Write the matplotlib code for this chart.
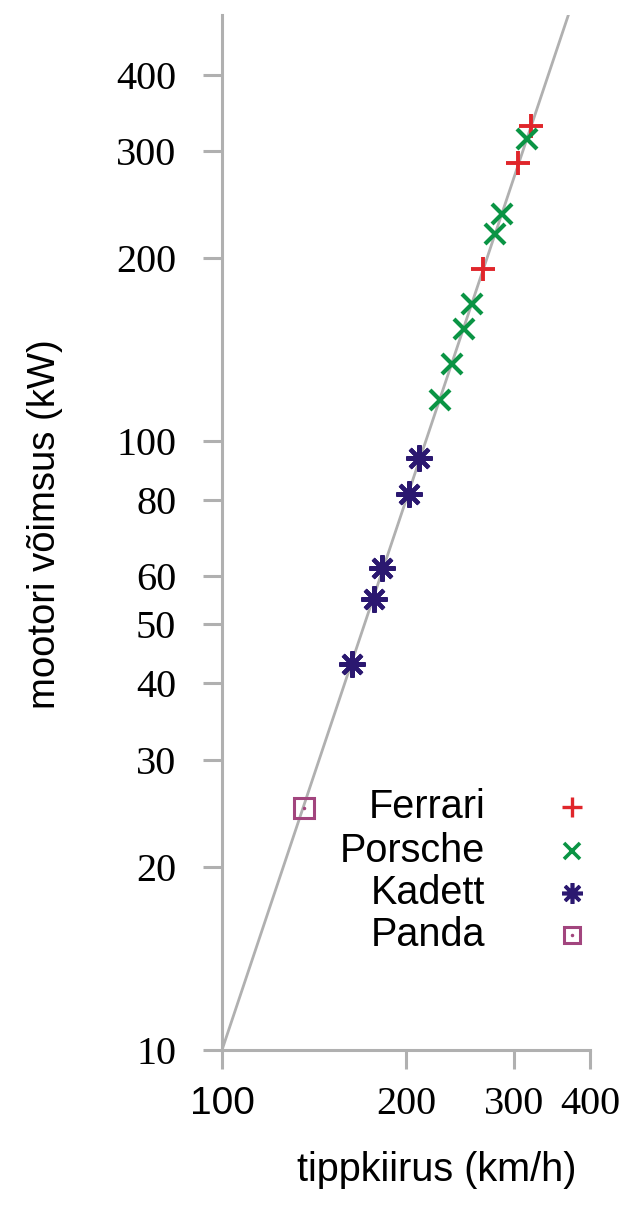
import numpy as np
import matplotlib
matplotlib.use('Agg')
import matplotlib.pyplot as plt

# andmed: tippkiirus (km/h) ja mootori võimsus (kW)
ferrari_speed = [320, 305, 267]
ferrari_power = [329, 286, 192]
porsche_speed = [316, 287, 280, 256, 249, 238, 227]
porsche_power = [314, 236, 219, 168, 153, 134, 117]
kadett_speed = [210, 202, 183, 177, 163]
kadett_power = [94, 82, 62, 55, 43]
panda_speed = [136]
panda_power = [25]

names = ['Ferrari', 'Porsche', 'Kadett', 'Panda']
colors = ['#e0262b', '#0a9444', '#2b1870', '#a2457e']

x_ticks = [100, 200, 300, 400]
y_ticks = [10, 20, 30, 40, 50, 60, 80, 100, 200, 300, 400]

# võimsus ~ kiirus^3
fit_speed = np.array([100, 400])
fit_power = 10 * (fit_speed / 100) ** 3

grey = '#b0b0b0'

fig = plt.figure(figsize=(6.4, 12.1), dpi=100)
ax = fig.add_axes([222 / 640, 1 - 1050 / 1210, 368 / 640, 1035 / 1210])
ax.set_xscale('log')
ax.set_yscale('log')
ax.set_xlim(100, 400)
ax.set_ylim(10, 10 ** 2.70)

ax.plot(fit_speed, fit_power, color=grey, lw=2, zorder=1)

ax.plot(ferrari_speed, ferrari_power, ls='none', marker='+', ms=17, mew=2.8, color=colors[0], zorder=3)
ax.plot(porsche_speed, porsche_power, ls='none', marker='x', ms=14, mew=3, color=colors[1], zorder=3)
ax.plot(kadett_speed, kadett_power, ls='none', marker=(8, 2, 0), ms=19, mew=3, color=colors[2], zorder=3)
ax.plot(panda_speed, panda_power, ls='none', marker='s', ms=14, mew=2.2, mfc='none', color=colors[3], zorder=3)
ax.plot(panda_speed, panda_power, ls='none', marker='.', ms=3, color=colors[3], zorder=3)

for s in ['top', 'right']:
    ax.spines[s].set_visible(False)
for s in ['left', 'bottom']:
    ax.spines[s].set_color(grey)
    ax.spines[s].set_linewidth(2.2)

ax.xaxis.set_minor_locator(matplotlib.ticker.NullLocator())
ax.yaxis.set_minor_locator(matplotlib.ticker.NullLocator())
ax.set_xticks(x_ticks)
ax.set_yticks(y_ticks)
ax.set_xticklabels([str(v) for v in x_ticks], fontfamily='Liberation Serif', fontsize=29)
ax.set_yticklabels([str(v) for v in y_ticks], fontfamily='Liberation Serif', fontsize=29)
ax.get_xticklabels()[0].set_fontfamily('Liberation Sans')
ax.get_xticklabels()[0].set_fontsize(28)
ax.tick_params(axis='both', length=14, width=2.2, color=grey)
ax.tick_params(axis='y', pad=19)
ax.tick_params(axis='x', pad=12)

ax.set_ylabel('mootori võimsus (kW)', fontfamily='Liberation Sans', fontsize=27.5)
ax.yaxis.set_label_coords((45 - 222) / 368, (1050 - 524) / 1035)
ax.set_xlabel('tippkiirus (km/h)', fontfamily='Liberation Sans', fontsize=28.5)
ax.xaxis.set_label_coords((437 - 222) / 368, (1050 - 1170) / 1035)
ax.xaxis.label.set_va('center')
ax.yaxis.label.set_va('center')

# legend käsitsi: tekst paremale joondatud, märk paremal
markers = [dict(marker='+', ms=14, mew=2.4), dict(marker='x', ms=11, mew=2.6),
           dict(marker=(8, 2, 0), ms=15, mew=2.6), dict(marker='s', ms=12, mew=2.2, mfc='none')]
row_y = [807, 851, 893, 935]
for name, col, mk, yp in zip(names, colors, markers, row_y):
    ya = (1050 - yp) / 1035
    ax.text((485 - 222) / 368, ya, name, transform=ax.transAxes, ha='right', va='center',
            fontfamily='Liberation Sans', fontsize=28.5)
    ax.plot([(572 - 222) / 368], [ya], transform=ax.transAxes, ls='none', color=col, clip_on=False, **mk)
ax.plot([(572 - 222) / 368], [(1050 - 935) / 1035], transform=ax.transAxes, ls='none',
        marker='.', ms=3, color=colors[3])

fig.savefig('out.png', dpi=100)
